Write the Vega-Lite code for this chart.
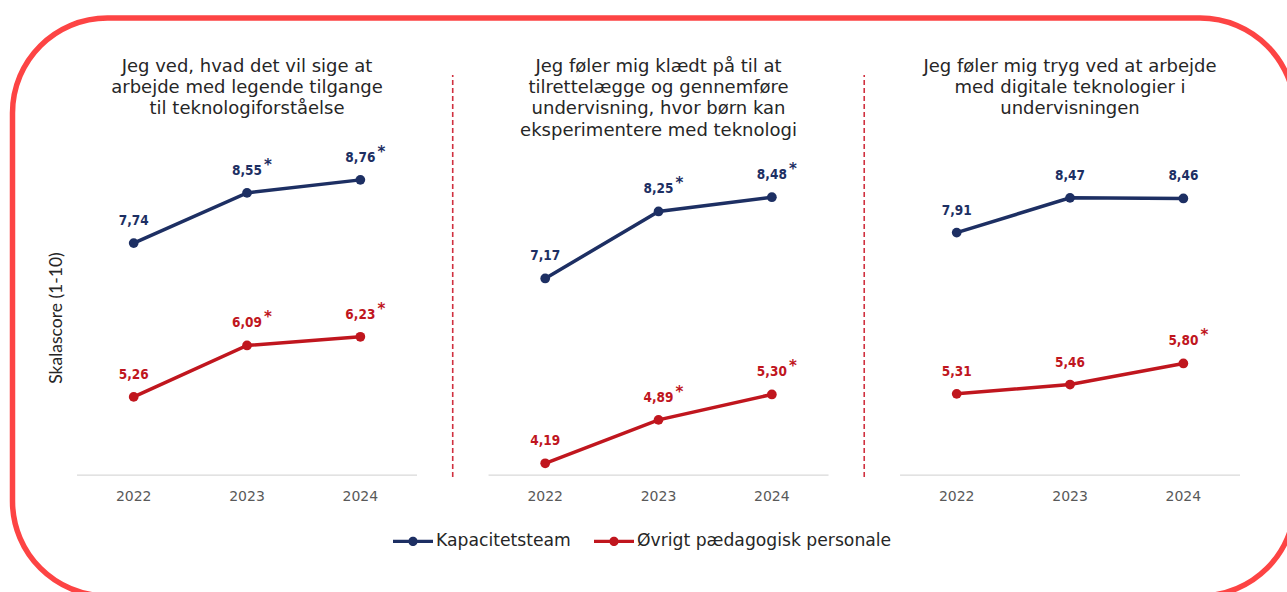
{
  "$schema": "https://vega.github.io/schema/vega-lite/v6.json",
  "width": 1282.5,
  "height": 578,
  "autosize": {"type": "none"},
  "padding": {"left": 12.5, "top": 18, "right": -8, "bottom": -4},
  "background": "white",
  "config": {
    "font": "DejaVu Sans",
    "view": {"stroke": "#fd4444", "strokeWidth": 5.5, "cornerRadius": 95, "fill": "white"},
    "locale": {"number": {"decimal": ",", "thousands": ".", "grouping": [3], "currency": ["", " kr."]}}
  },
  "datasets": {
    "scores": [
      {"panel": "A", "series": "Kapacitetsteam", "year": "2022", "value": 7.74, "sig": false},
      {"panel": "A", "series": "Kapacitetsteam", "year": "2023", "value": 8.55, "sig": true},
      {"panel": "A", "series": "Kapacitetsteam", "year": "2024", "value": 8.76, "sig": true},
      {"panel": "A", "series": "Øvrigt pædagogisk personale", "year": "2022", "value": 5.26, "sig": false},
      {"panel": "A", "series": "Øvrigt pædagogisk personale", "year": "2023", "value": 6.09, "sig": true},
      {"panel": "A", "series": "Øvrigt pædagogisk personale", "year": "2024", "value": 6.23, "sig": true},
      {"panel": "B", "series": "Kapacitetsteam", "year": "2022", "value": 7.17, "sig": false},
      {"panel": "B", "series": "Kapacitetsteam", "year": "2023", "value": 8.25, "sig": true},
      {"panel": "B", "series": "Kapacitetsteam", "year": "2024", "value": 8.48, "sig": true},
      {"panel": "B", "series": "Øvrigt pædagogisk personale", "year": "2022", "value": 4.19, "sig": false},
      {"panel": "B", "series": "Øvrigt pædagogisk personale", "year": "2023", "value": 4.89, "sig": true},
      {"panel": "B", "series": "Øvrigt pædagogisk personale", "year": "2024", "value": 5.30, "sig": true},
      {"panel": "C", "series": "Kapacitetsteam", "year": "2022", "value": 7.91, "sig": false},
      {"panel": "C", "series": "Kapacitetsteam", "year": "2023", "value": 8.47, "sig": false},
      {"panel": "C", "series": "Kapacitetsteam", "year": "2024", "value": 8.46, "sig": false},
      {"panel": "C", "series": "Øvrigt pædagogisk personale", "year": "2022", "value": 5.31, "sig": false},
      {"panel": "C", "series": "Øvrigt pædagogisk personale", "year": "2023", "value": 5.46, "sig": false},
      {"panel": "C", "series": "Øvrigt pædagogisk personale", "year": "2024", "value": 5.80, "sig": true}
    ],
    "panels": [
      {"panel": "A", "sep": true, "title": "Jeg ved, hvad det vil sige at\narbejde med legende tilgange\ntil teknologiforståelse"},
      {"panel": "B", "sep": true, "title": "Jeg føler mig klædt på til at\ntilrettelægge og gennemføre\nundervisning, hvor børn kan\neksperimentere med teknologi"},
      {"panel": "C", "sep": false, "title": "Jeg føler mig tryg ved at arbejde\nmed digitale teknologier i\nundervisningen"}
    ]
  },
  "layer": [
    {
      "data": {"name": "panels"},
      "transform": [{"filter": "datum.sep"}],
      "mark": {"type": "rule", "color": "#d0303f", "strokeWidth": 1.6, "strokeDash": [5, 3]},
      "encoding": {
        "x": {"field": "panel", "type": "nominal", "bandPosition": 1.105,
              "scale": {"domain": ["A", "B", "C"], "paddingInner": 0.1738, "paddingOuter": 0.1452, "align": 0.54}, "axis": null},
        "y": {"datum": 3.97, "type": "quantitative", "scale": {"domain": [2.05, 11.37], "nice": false, "zero": false}},
        "y2": {"datum": 10.45}
      }
    },
    {
      "data": {"name": "panels"},
      "mark": {"type": "rule", "color": "#d9d9d9", "strokeWidth": 1.2},
      "encoding": {
        "x": {"field": "panel", "type": "nominal", "bandPosition": 0},
        "x2": {"field": "panel", "bandPosition": 1},
        "y": {"datum": 4.0, "type": "quantitative"}
      }
    },
    {
      "data": {"name": "panels"},
      "mark": {"type": "text", "baseline": "top", "align": "center", "lineBreak": "\n", "lineHeight": 21.3, "fontSize": 18, "color": "#262626"},
      "encoding": {
        "x": {"field": "panel", "type": "nominal"},
        "y": {"datum": 10.73, "type": "quantitative"},
        "text": {"field": "title"}
      }
    },
    {
      "data": {"name": "scores"},
      "transform": [{"filter": "datum.series === 'Kapacitetsteam'"}],
      "mark": {"type": "text", "baseline": "middle", "align": "center", "fontSize": 14, "color": "#595959"},
      "encoding": {
        "x": {"field": "panel", "type": "nominal"},
        "xOffset": {"field": "year", "type": "ordinal", "scale": {"type": "point", "padding": 0.5}},
        "y": {"datum": 3.645, "type": "quantitative"},
        "text": {"field": "year"}
      }
    },
    {
      "data": {"name": "scores"},
      "mark": {"type": "line", "strokeWidth": 3.5},
      "encoding": {
        "x": {"field": "panel", "type": "nominal"},
        "xOffset": {"field": "year", "type": "ordinal"},
        "y": {"field": "value", "type": "quantitative"},
        "detail": {"field": "panel"},
        "color": {"field": "series", "type": "nominal",
                  "scale": {"domain": ["Kapacitetsteam", "Øvrigt pædagogisk personale"], "range": ["#1d2f63", "#c0161e"]}}
      }
    },
    {
      "data": {"name": "scores"},
      "mark": {"type": "point", "filled": true, "size": 95, "opacity": 1},
      "encoding": {
        "x": {"field": "panel", "type": "nominal"},
        "xOffset": {"field": "year", "type": "ordinal"},
        "y": {"field": "value", "type": "quantitative",
              "axis": {"title": "Skalascore (1-10)", "labels": false, "ticks": false, "domain": false, "grid": false,
                       "titleX": 43.5, "titleY": 299.5, "titleAngle": -90, "titleAlign": "center", "titleBaseline": "middle",
                       "titleFont": "Lato", "titleFontSize": 17.5, "titleFontWeight": "normal", "titleColor": "#262626"}},
        "color": {"field": "series", "type": "nominal",
                  "legend": {"title": null, "orient": "none", "legendX": 380.5, "legendY": 503, "direction": "horizontal",
                             "padding": 0, "columnPadding": 23, "labelOffset": 3, "labelFontSize": 17.2, "labelColor": "#262626",
                             "labelLimit": 400, "symbolSize": 1600, "symbolStrokeWidth": 0,
                             "symbolType": "M-1,-0.085H1V0.085H-1Z M-0.23,0A0.23,0.23 0 1,1 0.23,0A0.23,0.23 0 1,1 -0.23,0Z"}}
      }
    },
    {
      "data": {"name": "scores"},
      "mark": {"type": "text", "baseline": "middle", "align": "center", "font": "DejaVu Sans Condensed, DejaVu Sans", "fontSize": 13.5, "fontWeight": "bold", "dy": -22},
      "encoding": {
        "x": {"field": "panel", "type": "nominal"},
        "xOffset": {"field": "year", "type": "ordinal"},
        "y": {"field": "value", "type": "quantitative"},
        "text": {"field": "value", "type": "quantitative", "format": ".2f"},
        "color": {"field": "series", "type": "nominal"}
      }
    },
    {
      "data": {"name": "scores"},
      "transform": [{"filter": "datum.sig"}],
      "mark": {"type": "text", "baseline": "alphabetic", "align": "center", "fontSize": 15, "fontWeight": "bold", "dx": 21, "dy": -23},
      "encoding": {
        "x": {"field": "panel", "type": "nominal"},
        "xOffset": {"field": "year", "type": "ordinal"},
        "y": {"field": "value", "type": "quantitative"},
        "text": {"value": "*"},
        "color": {"field": "series", "type": "nominal"}
      }
    }
  ]
}
